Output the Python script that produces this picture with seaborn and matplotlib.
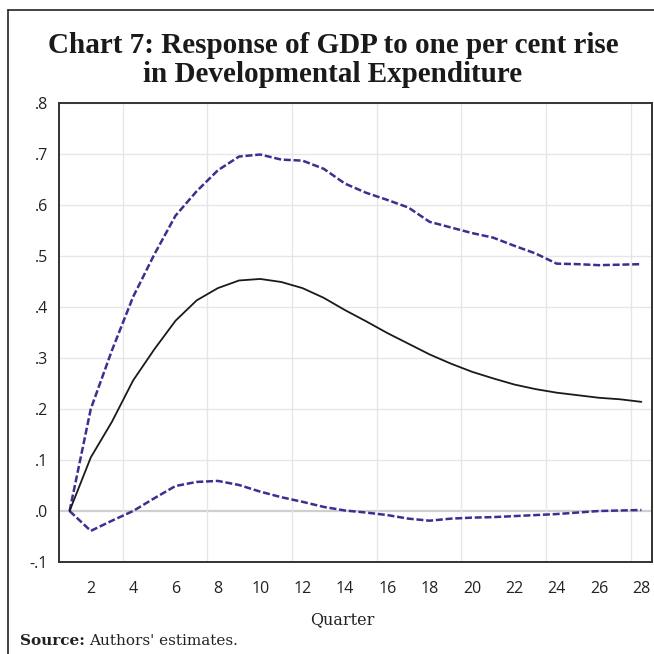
import numpy as np
import pandas as pd
import matplotlib
matplotlib.use("Agg")
import matplotlib.pyplot as plt
import matplotlib.lines as mlines
import seaborn as sns

# Impulse response of GDP to a one per cent shock in developmental expenditure
quarters = list(range(1, 29))
response = [0.000, 0.105, 0.175, 0.256, 0.317, 0.373, 0.413, 0.437, 0.452, 0.455,
            0.449, 0.437, 0.418, 0.394, 0.372, 0.349, 0.328, 0.307, 0.289, 0.273,
            0.260, 0.248, 0.239, 0.232, 0.227, 0.222, 0.219, 0.214]
upper_band = [0.000, 0.200, 0.315, 0.420, 0.503, 0.579, 0.627, 0.668, 0.695, 0.699,
              0.689, 0.687, 0.671, 0.642, 0.624, 0.610, 0.595, 0.567, 0.556, 0.545,
              0.536, 0.520, 0.505, 0.485, 0.484, 0.482, 0.483, 0.484]
lower_band = [0.000, -0.039, -0.019, 0.000, 0.025, 0.049, 0.057, 0.059, 0.051, 0.038,
              0.027, 0.018, 0.008, 0.001, -0.003, -0.008, -0.015, -0.019, -0.015, -0.013,
              -0.012, -0.010, -0.008, -0.006, -0.003, 0.000, 0.001, 0.002]

x_ticks = list(range(2, 29, 2))
y_ticks = [-0.1, 0.0, 0.1, 0.2, 0.3, 0.4, 0.5, 0.6, 0.7, 0.8]
y_tick_labels = ["-.1", ".0", ".1", ".2", ".3", ".4", ".5", ".6", ".7", ".8"]
x_grid = [3.5, 7.5, 11.5, 15.5, 19.5, 23.5, 27.5]

title = "Chart 7: Response of GDP to one per cent rise\nin Developmental Expenditure"
x_label = "Quarter"

df = pd.DataFrame({"quarter": quarters, "response": response,
                   "upper": upper_band, "lower": lower_band})

sns.set_theme(style="white")
plt.rcParams["font.family"] = ["DejaVu Sans"]

W = H = 654
fig = plt.figure(figsize=(W / 100, H / 100), dpi=100)
ax = fig.add_axes([59 / W, 1 - 562 / H, (652 - 59) / W, (562 - 103) / H])

# grid
for yv in y_ticks:
    if yv == 0.0:
        ax.axhline(yv, color="#cfcfcf", lw=1.6, zorder=1)
    else:
        ax.axhline(yv, color="#e6e6e6", lw=1.0, zorder=1)
for xv in x_grid:
    ax.axvline(xv, color="#e6e6e6", lw=1.0, zorder=1)

band_color = "#3b2f8f"
sns.lineplot(data=df, x="quarter", y="upper", ax=ax, color=band_color, lw=1.8,
             dashes=False, zorder=3)
sns.lineplot(data=df, x="quarter", y="lower", ax=ax, color=band_color, lw=1.8,
             dashes=False, zorder=3)
for ln in ax.lines[-2:]:
    ln.set_dashes((2.8, 1.1))
    ln.set_dash_capstyle("butt")
sns.lineplot(data=df, x="quarter", y="response", ax=ax, color="#1a1a1a", lw=1.3,
             zorder=4)

ax.set_xlim(0.5, 28.5)
ax.set_ylim(-0.1, 0.8)
ax.set_xticks(x_ticks)
ax.set_xticklabels([str(t) for t in x_ticks])
ax.set_yticks(y_ticks)
ax.set_yticklabels(y_tick_labels)
ax.tick_params(axis="both", length=0, labelsize=11.5, colors="#222222")
ax.tick_params(axis="x", pad=14)
ax.tick_params(axis="y", pad=8)
for lab in ax.get_xticklabels() + ax.get_yticklabels():
    lab.set_fontfamily("Open Sans")
ax.set_xlabel("")
ax.set_ylabel("")
for s in ax.spines.values():
    s.set_visible(True)
    s.set_color("#333333")
    s.set_linewidth(1.4)

fig.text(342 / W, 1 - 620 / H, x_label, ha="center", va="center",
         fontsize=11.5, family="DejaVu Serif", color="#222222")

fig.text(333 / W, 1 - 60 / H, title, ha="center", va="center",
         fontsize=21, fontweight="bold", family="Liberation Serif", color="#1a1a1a",
         linespacing=1.08)

# outer frame: top and left rules
fig.add_artist(mlines.Line2D([8 / W, 1.0], [1 - 10 / H, 1 - 10 / H],
                             transform=fig.transFigure, color="#222222", lw=1.2))
fig.add_artist(mlines.Line2D([8 / W, 8 / W], [1 - 10 / H, 0.0],
                             transform=fig.transFigure, color="#222222", lw=1.2))

# source note
src = fig.text(20 / W, 1 - 641 / H, "Source:", ha="left", va="center", fontsize=11,
               fontweight="bold", family="DejaVu Serif", color="#222222")
fig.canvas.draw()
bb = src.get_window_extent(renderer=fig.canvas.get_renderer())
fig.text((bb.x1 + 4) / W, 1 - 641 / H, "Authors' estimates.", ha="left", va="center",
         fontsize=11, family="DejaVu Serif", color="#222222")

fig.savefig("out.png", dpi=100)
